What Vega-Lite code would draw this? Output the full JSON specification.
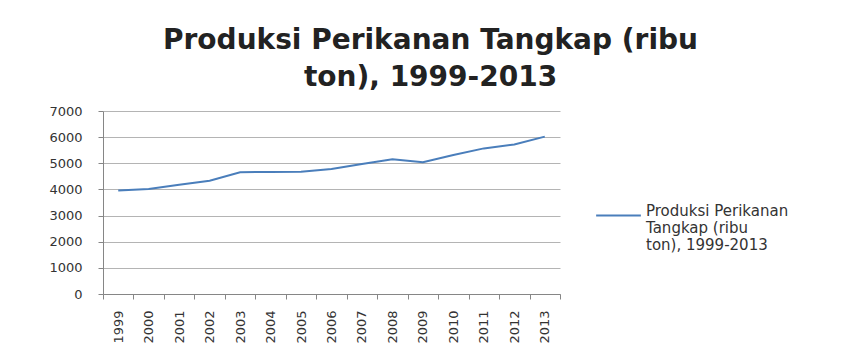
{
  "$schema": "https://vega.github.io/schema/vega-lite/v6.json",
  "width": 457,
  "height": 183,
  "autosize": "none",
  "padding": {"left": 103, "top": 111, "right": 281, "bottom": 59},
  "background": "white",
  "config": {"view": {"stroke": null}},
  "title": {
    "text": ["Produksi Perikanan Tangkap (ribu", "ton), 1999-2013"],
    "font": "DejaVu Sans",
    "fontSize": 28,
    "fontWeight": "bold",
    "color": "#222222",
    "anchor": "middle",
    "dx": 99,
    "offset": 13,
    "limit": 800,
    "lineHeight": 37
  },
  "data": {
    "values": [
      {"year": "1999", "value": 3960, "series": "Produksi Perikanan Tangkap (ribu ton), 1999-2013"},
      {"year": "2000", "value": 4020, "series": "Produksi Perikanan Tangkap (ribu ton), 1999-2013"},
      {"year": "2001", "value": 4180, "series": "Produksi Perikanan Tangkap (ribu ton), 1999-2013"},
      {"year": "2002", "value": 4330, "series": "Produksi Perikanan Tangkap (ribu ton), 1999-2013"},
      {"year": "2003", "value": 4660, "series": "Produksi Perikanan Tangkap (ribu ton), 1999-2013"},
      {"year": "2004", "value": 4670, "series": "Produksi Perikanan Tangkap (ribu ton), 1999-2013"},
      {"year": "2005", "value": 4680, "series": "Produksi Perikanan Tangkap (ribu ton), 1999-2013"},
      {"year": "2006", "value": 4780, "series": "Produksi Perikanan Tangkap (ribu ton), 1999-2013"},
      {"year": "2007", "value": 4970, "series": "Produksi Perikanan Tangkap (ribu ton), 1999-2013"},
      {"year": "2008", "value": 5150, "series": "Produksi Perikanan Tangkap (ribu ton), 1999-2013"},
      {"year": "2009", "value": 5040, "series": "Produksi Perikanan Tangkap (ribu ton), 1999-2013"},
      {"year": "2010", "value": 5320, "series": "Produksi Perikanan Tangkap (ribu ton), 1999-2013"},
      {"year": "2011", "value": 5570, "series": "Produksi Perikanan Tangkap (ribu ton), 1999-2013"},
      {"year": "2012", "value": 5720, "series": "Produksi Perikanan Tangkap (ribu ton), 1999-2013"},
      {"year": "2013", "value": 6020, "series": "Produksi Perikanan Tangkap (ribu ton), 1999-2013"}
    ]
  },
  "mark": {"type": "line", "strokeWidth": 2},
  "encoding": {
    "x": {
      "field": "year",
      "type": "ordinal",
      "bandPosition": 0.5,
      "scale": {"type": "band", "paddingInner": 0, "paddingOuter": 0},
      "axis": {
        "title": null,
        "labelAngle": -90,
        "labelFont": "DejaVu Sans",
        "labelFontSize": 13,
        "labelColor": "#333333",
        "labelPadding": 11,
        "tickBand": "extent",
        "tickSize": 5,
        "tickColor": "#868686",
        "domainColor": "#868686",
        "grid": false
      }
    },
    "y": {
      "field": "value",
      "type": "quantitative",
      "scale": {"domain": [0, 7000], "nice": false},
      "axis": {
        "title": null,
        "format": "d",
        "values": [0, 1000, 2000, 3000, 4000, 5000, 6000, 7000],
        "labelFont": "DejaVu Sans",
        "labelFontSize": 13,
        "labelColor": "#333333",
        "labelPadding": 16,
        "tickSize": 5,
        "tickColor": "#868686",
        "domainColor": "#868686",
        "gridColor": "#b4b4b4",
        "gridWidth": 1
      }
    },
    "color": {
      "field": "series",
      "type": "nominal",
      "scale": {"range": ["#4A7EBB"]},
      "legend": {
        "title": null,
        "orient": "none",
        "legendX": 492,
        "legendY": 81,
        "symbolType": "stroke",
        "symbolSize": 2000,
        "symbolStrokeWidth": 2,
        "labelFont": "DejaVu Sans",
        "labelFontSize": 15,
        "labelColor": "#333333",
        "labelLimit": 300,
        "labelExpr": "['Produksi Perikanan', 'Tangkap (ribu', 'ton), 1999-2013']",
        "labelLineHeight": 18,
        "labelBaseline": "alphabetic"
      }
    }
  }
}
